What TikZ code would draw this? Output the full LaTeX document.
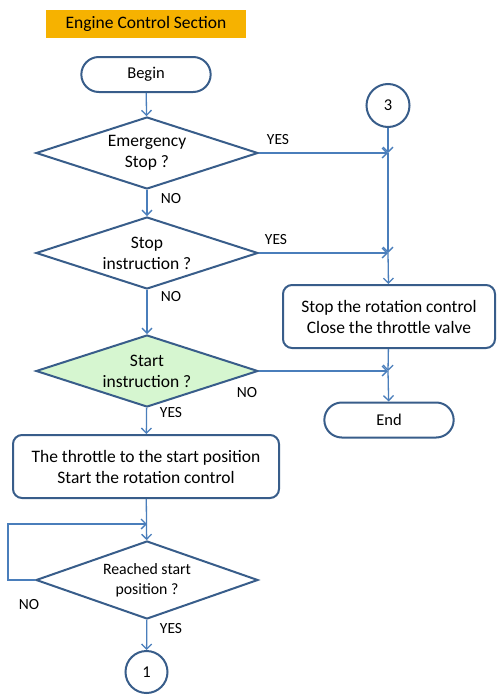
\documentclass[tikz,border=0pt]{standalone}
\usepackage{fontspec}
\setmainfont{Carlito}
\usetikzlibrary{shapes.geometric,shapes.misc,arrows.meta}
\definecolor{linec}{RGB}{74,126,187}
\definecolor{borderc}{RGB}{56,93,138}
\definecolor{greenf}{RGB}{214,246,208}
\definecolor{titlef}{RGB}{246,178,0}
\tikzset{
  flow/.style={draw=linec, line width=1.3pt, -{Straight Barb[length=5pt,width=10pt,line width=1.3pt]}},
  term/.style={rounded rectangle, draw=borderc, line width=2pt, minimum width=136pt, minimum height=35pt, font=\fontsize{16.5}{18}\selectfont, fill=white},
  proc/.style={rectangle, rounded corners=9pt, draw=borderc, line width=2pt, align=center, font=\fontsize{17.5}{21}\selectfont, fill=white},
  decision/.style={diamond, aspect=3, draw=borderc, line width=2pt, minimum width=222pt, minimum height=72pt, inner sep=0pt, align=center, font=\fontsize{17.5}{21}\selectfont, fill=white},
  conn/.style={circle, draw=borderc, line width=2pt, minimum size=42pt, inner sep=0pt, font=\fontsize{16.5}{18}\selectfont, fill=white},
  lbl/.style={font=\fontsize{15.5}{17}\selectfont, inner sep=0pt}
}
\begin{document}
\begin{tikzpicture}[x=1pt,y=-1pt]
\useasboundingbox (0,0) rectangle (501,699);
\node[fill=titlef, minimum width=200pt, minimum height=28pt, inner sep=0pt, font=\fontsize{17.5}{19}\selectfont] (title) at (146,24) {\raisebox{-1.5pt}{Engine Control Section}};
\node[term] (begin) at (146,74.5) {Begin};
\node[decision] (d1) at (147,153) {Emergency\\Stop ?};
\node[decision] (d2) at (147,253) {Stop\\instruction ?};
\node[decision, fill=greenf] (d3) at (147,371) {Start\\instruction ?};
\node[proc, minimum width=266pt, minimum height=63pt] (thr) at (146,466.5) {The throttle to the start position\\Start the rotation control};
\node[decision, font=\fontsize{15.8}{20}\selectfont, minimum height=78pt] (d4) at (147,580) {Reached start\\position ?};
\node[conn] (c1) at (146.5,672) {1};
\node[conn, minimum size=43pt] (c3) at (388,105.5) {3};
\node[proc, minimum width=212pt, minimum height=63pt] (stop) at (389,316.5) {Stop the rotation control\\Close the throttle valve};
\node[term] (end) at (389,420) {End};
\coordinate (j1) at (388,153);
\coordinate (j2) at (388,253);
\coordinate (j3) at (388,371);
\coordinate (l1) at (8,580);
\coordinate (l2) at (8,524);
\coordinate (l3) at (147,524);
% connectors
\draw[flow] (begin) -- (d1);
\draw[flow] (d1) -- (d2);
\draw[flow] (d2) -- (d3);
\draw[flow] (d3) -- (thr);
\draw[flow] (thr) -- (d4);
\draw[flow] (d4) -- (c1);
\draw[flow] (d1.east) -- (j1);
\draw[flow] (d2.east) -- (j2);
\draw[flow] (d3.east) -- (j3);
\draw[flow] (c3) -- (j1);
\draw[flow] (j1) -- (j2);
\draw[flow] (j2) -- (stop);
\draw[flow] (stop) -- (j3);
\draw[flow] (j3) -- (end);
\draw[flow] (d4.west) -- (l1) -- (l2) -- (l3);
% labels
\node[lbl] (n1) at (171,199) {NO};
\node[lbl] (n2) at (171,297) {NO};
\node[lbl] (y3) at (171,413) {YES};
\node[lbl] (y4) at (171,629) {YES};
\node[lbl] (n4) at (29,605) {NO};
\node[lbl] (n3) at (247,393) {NO};
\node[lbl] (y1) at (278,140) {YES};
\node[lbl] (y2) at (276,240) {YES};
\end{tikzpicture}
\end{document}
